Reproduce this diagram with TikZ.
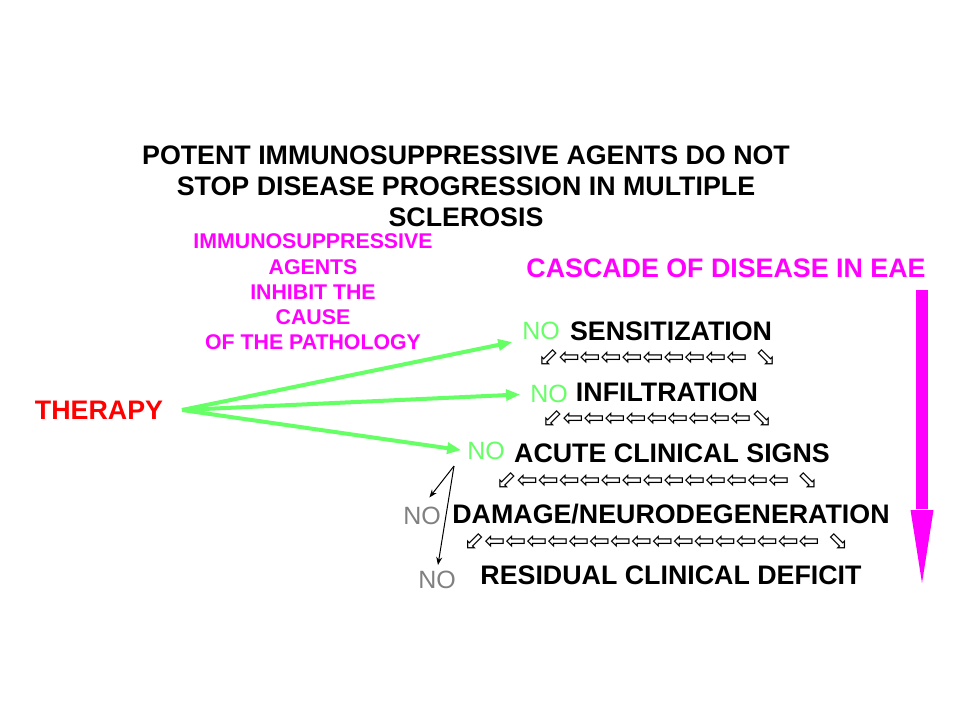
\documentclass[tikz,border=0pt]{standalone}
\usepackage{fontspec}
\setmainfont{Liberation Sans}
\newfontfamily\symfont{DejaVu Sans}
\usepackage{tikz}
\usetikzlibrary{positioning,calc,arrows.meta}
\definecolor{lgreen}{RGB}{102,255,102}
\definecolor{mag}{RGB}{255,0,255}
\definecolor{nogrey}{RGB}{128,128,128}
\newcommand{\bigb}{\fontsize{26.8}{31}\selectfont\bfseries}
\tikzstyle{stage} = [inner sep=0pt, font=\bigb]
\tikzstyle{no} = [inner sep=0pt, font=\fontsize{25}{30}\selectfont]
\tikzstyle{chain} = [inner sep=0pt, font=\symfont\fontsize{25}{30}\selectfont]
\tikzstyle{hit} = [-{Triangle[length=14pt,width=11pt]}, draw=lgreen, line width=4pt, shorten >=10pt]
\tikzstyle{fail} = [-{Stealth[length=8pt,width=6pt]}, line width=1pt]

\begin{document}
\begin{tikzpicture}[x=1pt, y=-1pt]
	\useasboundingbox[fill=white] (0,0) rectangle (960,720);
	\node (title) [stage, align=center] at (466,186) {POTENT IMMUNOSUPPRESSIVE AGENTS DO NOT\\STOP DISEASE PROGRESSION IN MULTIPLE\\SCLEROSIS};
	\node (agents) [inner sep=0pt, text=mag, align=center, font=\fontsize{21.3}{25.2}\selectfont\bfseries] at (313,292) {IMMUNOSUPPRESSIVE\\AGENTS\\INHIBIT THE\\CAUSE\\OF THE PATHOLOGY};
	\node (cascade) [stage, text=mag] at (726,268) {CASCADE OF DISEASE IN EAE};
	\node (therapy) [stage, text=red] at (99,410) {THERAPY};
	% cascade
	\node (sens) [stage] at (671,331) {SENSITIZATION};
	\node (infl) [stage] at (667,392) {INFILTRATION};
	\node (acute) [stage] at (672,453) {ACUTE CLINICAL SIGNS};
	\node (damage) [stage] at (671,514) {DAMAGE/NEURODEGENERATION};
	\node (resid) [stage] at (671,575) {RESIDUAL CLINICAL DEFICIT};
	\node (r1) [chain] at (657,357) {⬃⇦⇦⇦⇦⇦⇦⇦⇦⇦ ⬂};
	\node (r2) [chain] at (657,418) {⬃⇦⇦⇦⇦⇦⇦⇦⇦⇦⬂};
	\node (r3) [chain] at (657,480) {⬃⇦⇦⇦⇦⇦⇦⇦⇦⇦⇦⇦⇦⇦ ⬂};
	\node (r4) [chain] at (656,541) {⬃⇦⇦⇦⇦⇦⇦⇦⇦⇦⇦⇦⇦⇦⇦⇦⇦ ⬂};
	\node (no1) [no, text=lgreen] at (541,331) {NO};
	\node (no2) [no, text=lgreen] at (549,394) {NO};
	\node (no3) [no, text=lgreen] at (486,451) {NO};
	\node (no4) [no, text=nogrey] at (422,516) {NO};
	\node (no5) [no, text=nogrey] at (437,580) {NO};
	% arrows
	\coordinate (t0) at (182,410);
	\draw [hit] (t0) -- (no1.south west);
	\draw [hit] (t0) -- (no2.west);
	\draw [hit, shorten >=6pt] (t0) -- (no3.west);
	\coordinate (split) at (454,466);
	\draw [fail, shorten >=12pt] (split) -- (no4.north);
	\draw [fail, shorten >=6pt] (split) -- (no5.north);
	\coordinate (ctop) at (922,290);
	\coordinate (chead) at (922,510);
	\coordinate (cbot) at (922,583);
	\draw [draw=mag, line width=12pt] (ctop) -- ([yshift=1pt]chead);
	\fill [mag] ([xshift=-11.5pt]chead) -- ([xshift=11.5pt]chead) -- (cbot) -- cycle;
\end{tikzpicture}
\end{document}
